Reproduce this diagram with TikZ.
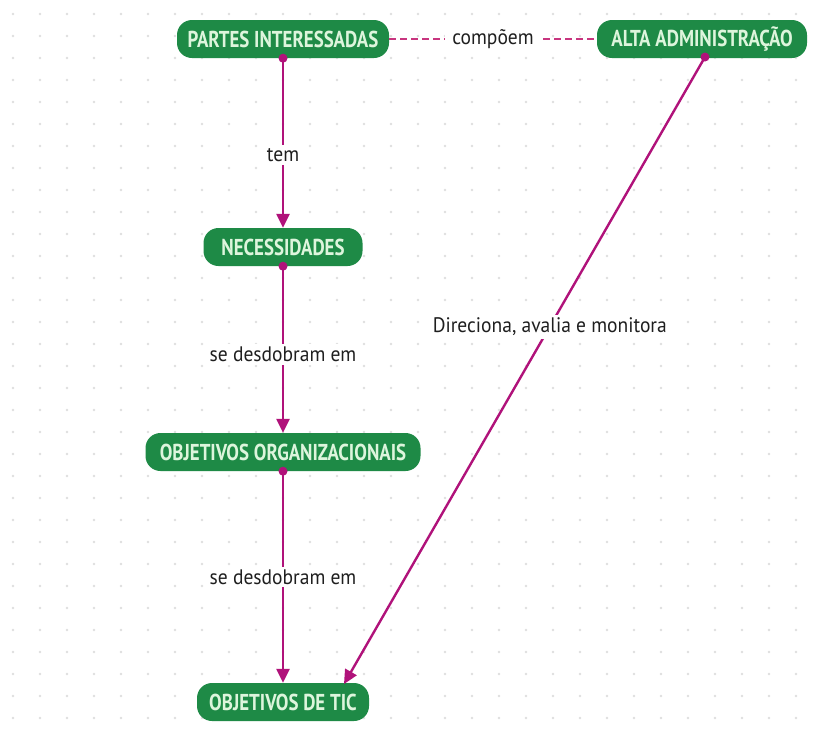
\documentclass[tikz,border=0pt]{standalone}
\usepackage{fontspec}
\setmainfont{PT Sans}
\newfontfamily\nodefont{PT Sans Bold}[FakeStretch=0.82]
\newfontfamily\lblfont{PT Sans}[FakeStretch=0.93]
\usetikzlibrary{arrows.meta}
\definecolor{nodegreen}{HTML}{1E8A46}
\definecolor{nodetext}{HTML}{DDF5DC}
\definecolor{mag}{HTML}{B0127A}
\definecolor{dashpink}{HTML}{C8357F}
\definecolor{griddot}{HTML}{DEDEDE}
\tikzset{
  concept/.style={fill=nodegreen, text=nodetext, rounded corners=15pt, inner xsep=6pt, font=\nodefont\fontsize{23}{23}\selectfont, minimum height=38pt, anchor=center},
  lbl/.style={fill=white, text=black!88, font=\lblfont\fontsize{21}{21}\selectfont, inner sep=3pt},
  link/.style={draw=mag, line width=2.4pt, -{Triangle[length=14pt,width=13pt]}},
  startdot/.style={circle, fill=mag, inner sep=0pt, minimum size=9pt},
}
\begin{document}
\begin{tikzpicture}[x=1pt,y=-1pt]
\useasboundingbox (0,0) rectangle (817,737);
\fill[white] (0,0) rectangle (817,737);
\foreach \i in {0,...,30} {
  \foreach \j in {0,...,33} {
    \fill[griddot] (13+27*\i, 14+22*\j) circle (1.3pt);
  }
}
\node[concept, minimum width=212pt] (pi) at (283,39) {PARTES INTERESSADAS};
\node[concept, minimum width=210pt] (aa) at (702,39) {ALTA ADMINISTRAÇÃO};
\node[concept, minimum width=159pt] (ne) at (283,247) {NECESSIDADES};
\node[concept, minimum width=275pt] (oo) at (283,452) {OBJETIVOS ORGANIZACIONAIS};
\node[concept, minimum width=172pt] (ot) at (283,702) {OBJETIVOS DE TIC};

\coordinate (aastart) at (705,57);
\coordinate (otend) at (344,684);

\draw[dashpink, line width=2.2pt, dash pattern=on 7pt off 4pt] (pi.east) -- node[lbl, fill=white, inner xsep=7pt] (c) {compõem} (aa.west);

\node[startdot] (d1) at (pi.south) {};
\node[startdot] (d2) at (ne.south) {};
\node[startdot] (d3) at (oo.south) {};
\node[startdot] (d4) at (aastart) {};

\draw[link] (d1.center) -- node[lbl, pos=0.57] (l1) {tem} (ne.north);
\draw[link] (d2.center) -- node[lbl, pos=0.53] (l2) {se desdobram em} (oo.north);
\draw[link] (d3.center) -- node[lbl, pos=0.5] (l3) {se desdobram em} (ot.north);
\draw[link] (d4.center) -- node[lbl, pos=0.43] (l4) {Direciona, avalia e monitora} (otend);
\end{tikzpicture}
\end{document}
